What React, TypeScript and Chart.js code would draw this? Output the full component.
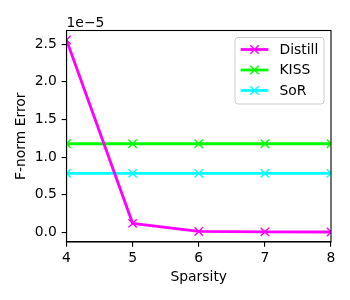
import React, { useEffect, useRef } from 'react';
import { Chart, registerables } from 'chart.js';
Chart.register(...registerables);

const sparsity = [4, 5, 6, 7, 8];
const distill = [2.557e-5, 0.12e-5, 0.012e-5, 0.006e-5, 0.005e-5];
const kiss = [1.178e-5, 1.178e-5, 1.178e-5, 1.178e-5, 1.178e-5];
const sor = [0.785e-5, 0.785e-5, 0.785e-5, 0.785e-5, 0.785e-5];
const seriesNames = ['Distill', 'KISS', 'SoR'];
const seriesColors = ['#ff00ff', '#00ff00', '#00ffff'];
const yTicks = [0, 0.5e-5, 1.0e-5, 1.5e-5, 2.0e-5, 2.5e-5];
const xTicks = [4, 5, 6, 7, 8];
const yMin = -0.128e-5;
const yMax = 2.683e-5;
const offsetText = '1e\u22125';
const xTitle = 'Sparsity';
const yTitle = 'F-norm Error';

const FONT = '13.9px "DejaVu Sans"';

const decorPlugin = {
  id: 'decor',
  afterDraw(chart: any) {
    const { ctx, chartArea } = chart;
    const { left, right, top, bottom } = chartArea;
    ctx.save();
    // frame
    ctx.strokeStyle = '#000';
    ctx.lineWidth = 1.1;
    ctx.strokeRect(left, top, right - left, bottom - top);
    // offset text
    ctx.fillStyle = '#000';
    ctx.font = FONT;
    ctx.textAlign = 'left';
    ctx.textBaseline = 'alphabetic';
    ctx.fillText(offsetText, left, 26.5);
    // x title
    ctx.textAlign = 'center';
    ctx.textBaseline = 'middle';
    ctx.fillText(xTitle, (left + right) / 2, 277.5);
    // y title
    ctx.save();
    ctx.translate(21, (top + bottom) / 2);
    ctx.rotate(-Math.PI / 2);
    ctx.fillText(yTitle, 0, 0);
    ctx.restore();
    // legend
    const bx = 235, by = 37.5, bw = 89, bh = 66.5, r = 3;
    ctx.beginPath();
    ctx.moveTo(bx + r, by);
    ctx.lineTo(bx + bw - r, by);
    ctx.arcTo(bx + bw, by, bx + bw, by + r, r);
    ctx.lineTo(bx + bw, by + bh - r);
    ctx.arcTo(bx + bw, by + bh, bx + bw - r, by + bh, r);
    ctx.lineTo(bx + r, by + bh);
    ctx.arcTo(bx, by + bh, bx, by + bh - r, r);
    ctx.lineTo(bx, by + r);
    ctx.arcTo(bx, by, bx + r, by, r);
    ctx.closePath();
    ctx.fillStyle = 'rgba(255,255,255,0.8)';
    ctx.fill();
    ctx.strokeStyle = '#cccccc';
    ctx.lineWidth = 1;
    ctx.stroke();
    const rows = [49.5, 70, 90.5];
    seriesNames.forEach((name, i) => {
      const y = rows[i];
      ctx.strokeStyle = seriesColors[i];
      ctx.lineWidth = 2.8;
      ctx.beginPath();
      ctx.moveTo(240.6, y);
      ctx.lineTo(268.4, y);
      ctx.stroke();
      ctx.lineWidth = 1.4;
      const cx = 254.5, m = 4.17;
      ctx.beginPath();
      ctx.moveTo(cx - m, y - m);
      ctx.lineTo(cx + m, y + m);
      ctx.moveTo(cx - m, y + m);
      ctx.lineTo(cx + m, y - m);
      ctx.stroke();
      ctx.fillStyle = '#000';
      ctx.textAlign = 'left';
      ctx.textBaseline = 'middle';
      ctx.font = FONT;
      ctx.fillText(name, 279.5, y + 0.5);
    });
    ctx.restore();
  },
};

export default function App() {
  const ref = useRef<HTMLCanvasElement>(null);
  useEffect(() => {
    document.body.style.margin = '0';
    const mk = (vals: number[]) => sparsity.map((x, i) => ({ x, y: vals[i] }));
    const series = [distill, kiss, sor];
    const chart = new Chart(ref.current!, {
      type: 'line',
      data: {
        datasets: series.map((vals, i) => ({
          label: seriesNames[i],
          data: mk(vals),
          borderColor: seriesColors[i],
          backgroundColor: seriesColors[i],
          borderWidth: 2.8,
          pointStyle: 'crossRot',
          pointRadius: 5.9,
          pointBorderWidth: 1.4,
          pointBorderColor: seriesColors[i],
          tension: 0,
          fill: false,
        })),
      },
      options: {
        animation: false,
        responsive: false,
        devicePixelRatio: 1,
        events: [],
        layout: { padding: { top: 30.5, right: 19, left: 0, bottom: 0 } },
        plugins: { legend: { display: false }, tooltip: { enabled: false } },
        scales: {
          x: {
            type: 'linear',
            min: 4,
            max: 8,
            afterFit: (s: any) => { s.height = 58; },
            afterBuildTicks: (s: any) => { s.ticks = xTicks.map((v) => ({ value: v })); },
            grid: { drawOnChartArea: false, drawTicks: true, tickLength: 4.86, color: '#000', lineWidth: 1.1 },
            border: { display: true, color: '#000', width: 1.1 },
            ticks: { color: '#000', font: { family: 'DejaVu Sans', size: 13.9 }, padding: 3, maxRotation: 0, callback: (v: any) => String(v) },
          },
          y: {
            type: 'linear',
            min: yMin,
            max: yMax,
            afterFit: (s: any) => { s.width = 66.5; },
            afterBuildTicks: (s: any) => { s.ticks = yTicks.map((v) => ({ value: v })); },
            grid: { drawOnChartArea: false, drawTicks: true, tickLength: 4.86, color: '#000', lineWidth: 1.1 },
            border: { display: true, color: '#000', width: 1.1 },
            ticks: { color: '#000', font: { family: 'DejaVu Sans', size: 13.9 }, padding: 4.86, callback: (v: any) => (Number(v) / 1e-5).toFixed(1) },
          },
        },
      },
      plugins: [decorPlugin],
    });
    return () => chart.destroy();
  }, []);
  return (
    <div style={{ width: 350, height: 300 }}>
      <canvas ref={ref} width={350} height={300} style={{ display: 'block', width: 350, height: 300 }} />
    </div>
  );
}
